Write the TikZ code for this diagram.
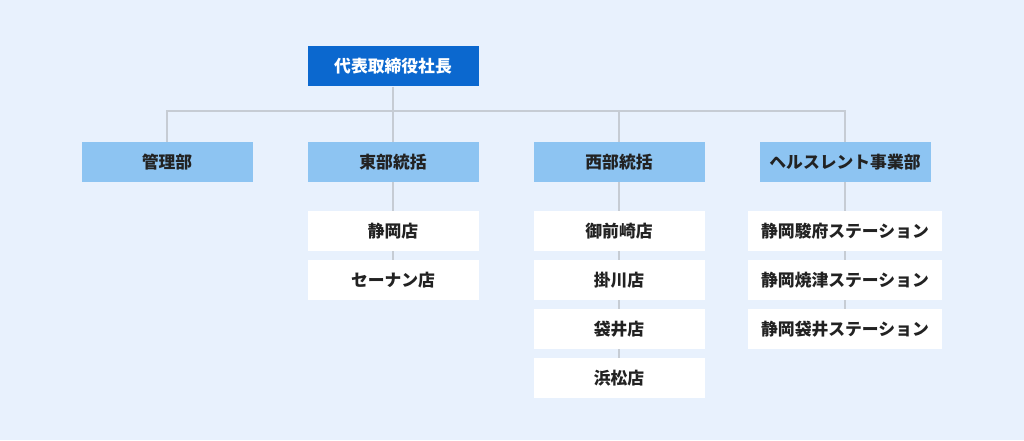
\documentclass[tikz,border=0pt]{standalone}
\usepackage{fontspec}
\setmainfont{Noto Sans CJK JP}
\usetikzlibrary{calc}

\definecolor{bgblue}{HTML}{E8F1FD}
\definecolor{ceoblue}{HTML}{0B68CF}
\definecolor{deptblue}{HTML}{8DC4F2}
\definecolor{linkgray}{HTML}{C6CCD4}
\definecolor{textdark}{HTML}{222222}

\tikzset{
  box/.style={minimum width=171pt,minimum height=40pt,inner sep=0pt,
    font=\fontsize{16.8}{20}\selectfont\bfseries,text=textdark},
  ceobox/.style={box,fill=ceoblue,text=white},
  deptbox/.style={box,fill=deptblue},
  shopbox/.style={box,fill=white},
  stationbox/.style={shopbox,minimum width=194pt},
  link/.style={draw=linkgray,line width=1.5pt}
}

\begin{document}
\begin{tikzpicture}[x=1pt,y=1pt]
  \fill[bgblue] (0,0) rectangle (1024,440);
  \useasboundingbox (0,0) rectangle (1024,440);

  % top
  \node[ceobox] (ceo) at (393,373.5) {代表取締役社長};

  % departments
  \node[deptbox] (admin)  at (167,278) {管理部};
  \node[deptbox] (east)   at (393,278) {東部統括};
  \node[deptbox] (west)   at (619,278) {西部統括};
  \node[deptbox] (health) at (845,278) {ヘルスレント事業部};

  % shops and stations
  \foreach \txt [count=\i] in {静岡店,セーナン店}
    \node[shopbox] (e\i) at (393,{258-49*\i}) {\txt};
  \foreach \txt [count=\i] in {御前崎店,掛川店,袋井店,浜松店}
    \node[shopbox] (w\i) at (619,{258-49*\i}) {\txt};
  \foreach \txt [count=\i] in {静岡駿府ステーション,静岡焼津ステーション,静岡袋井ステーション}
    \node[stationbox] (h\i) at (845,{258-49*\i}) {\txt};

  % connectors
  \coordinate (bus) at (393,329);
  \draw[link] (ceo.south) -- (east.north);
  \draw[link] (admin.north) |- (bus) -| (health.north);
  \draw[link] (west.north) -- (west.north |- bus);
  \draw[link] (east.south) -- (e1.north);
  \draw[link] (west.south) -- (w1.north);
  \draw[link] (health.south) -- (h1.north);
  \draw[link] (e1.south) -- (e2.north);
  \foreach \a/\b in {1/2,2/3,3/4}
    \draw[link] (w\a.south) -- (w\b.north);
  \foreach \a/\b in {1/2,2/3}
    \draw[link] (h\a.south) -- (h\b.north);
\end{tikzpicture}
\end{document}
